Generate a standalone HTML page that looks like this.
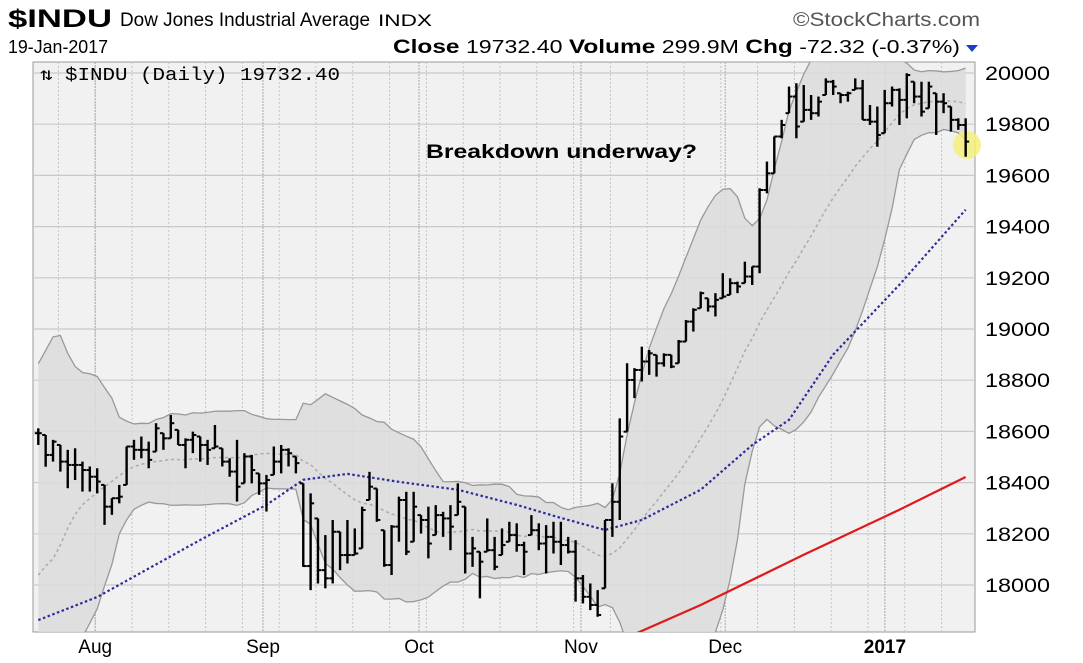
<!DOCTYPE html>
<html style="margin:0;overflow:hidden"><head><meta charset="utf-8"><style>
html,body{margin:0;padding:0;background:#fff;width:1083px;height:663px;overflow:hidden;font-family:"Liberation Sans",sans-serif}
svg{display:block}
</style></head><body>
<svg id="chart" width="1083" height="663" xmlns="http://www.w3.org/2000/svg">
<g>
<text x="8" y="27" font-size="25" font-weight="bold" textLength="104" lengthAdjust="spacingAndGlyphs" font-family="Liberation Sans,sans-serif">$INDU</text>
<text x="120" y="26" font-size="19" textLength="250" lengthAdjust="spacingAndGlyphs" font-family="Liberation Sans,sans-serif">Dow Jones Industrial Average</text>
<text x="378" y="26" font-size="17" textLength="54" lengthAdjust="spacingAndGlyphs" font-family="Liberation Sans,sans-serif">INDX</text>
<text x="793" y="26" font-size="19" textLength="187" lengthAdjust="spacingAndGlyphs" fill="#555" font-family="Liberation Sans,sans-serif">©StockCharts.com</text>
<text x="8" y="53" font-size="18" textLength="100" lengthAdjust="spacingAndGlyphs" font-family="Liberation Sans,sans-serif">19-Jan-2017</text>
<text x="393" y="53" font-size="18" textLength="567" lengthAdjust="spacingAndGlyphs" font-family="Liberation Sans,sans-serif"><tspan font-weight="bold" font-size="19">Close</tspan> 19732.40  <tspan font-weight="bold" font-size="19">Volume</tspan> 299.9M  <tspan font-weight="bold" font-size="19">Chg</tspan> -72.32 (-0.37%)</text>
<path d="M966 45 L978 45 L972 52 Z" fill="#1a3fd0"/>
</g>
<rect x="33" y="62" width="942" height="570" fill="#f1f1f1" stroke="#999"/>
<g id="grid"></g>
<g id="bands"></g>
<g id="mas"></g>
<circle cx="967" cy="145" r="14" fill="#f4f07a" opacity="0.85"/>
<g id="bars"></g>
<g id="axis"></g>
<text x="40" y="80" font-size="18" textLength="300" lengthAdjust="spacingAndGlyphs" font-family="Liberation Mono,monospace">⇅ $INDU (Daily) 19732.40</text>
<text x="426" y="158" font-size="19" font-weight="bold" textLength="271" lengthAdjust="spacingAndGlyphs" font-family="Liberation Sans,sans-serif">Breakdown underway?</text>
</svg>
<script>
const highs=[18612,18586,18567,18547,18528,18534,18482,18463,18456,18391,18339,18391,18541,18567,18580,18560,18632,18593,18664,18606,18573,18599,18580,18567,18625,18534,18495,18567,18515,18508,18436,18430,18541,18547,18534,18502,
18397,18358,18260,18195,18254,18208,18254,18221,18306,18442,18377,18214,18234,18345,18364,18364,18273,18306,18312,18286,18312,18397,18306,18188,18130,18260,18188,18221,18247,18241,18169,18273,18241,18234,18247,18247,18188,18175,18039,18006,17980,18254,18397,
18651,18866,18847,18931,18918,18899,18905,18899,18957,19035,19081,19146,19120,19140,19218,19198,19185,19263,19244,19550,19654,19752,19817,19947,19960,19953,19914,19908,19979,19973,19921,19927,19979,19973,19875,19869,19934,19947,19940,19999,19966,19966,19966,19921,19921,19869,19823,19823];
const lows=[18547,18462,18482,18443,18378,18410,18365,18365,18358,18235,18274,18319,18391,18489,18495,18456,18521,18528,18573,18547,18456,18515,18482,18469,18534,18463,18423,18326,18397,18397,18352,18287,18430,18436,18463,18436,
18071,17980,18006,17987,18006,18058,18084,18117,18143,18332,18247,18071,18039,18169,18117,18169,18201,18104,18195,18188,18136,18273,18045,18071,17948,18130,18058,18117,18169,18130,18039,18195,18136,18045,18123,18078,18123,17935,17928,17902,17876,17987,18188,
18254,18599,18730,18795,18821,18814,18853,18847,18866,18951,18990,19081,19068,19049,19120,19133,19140,19179,19172,19218,19530,19608,19745,19843,19745,19810,19817,19830,19914,19914,19882,19888,19934,19817,19797,19712,19765,19869,19797,19823,19882,19830,19862,19758,19843,19771,19778,19673];
const closes=[18593,18508,18560,18482,18469,18469,18449,18423,18404,18306,18339,18345,18541,18528,18528,18489,18612,18573,18632,18547,18567,18586,18547,18528,18541,18482,18443,18384,18502,18449,18397,18410,18482,18528,18515,18476,
18074,18319,18058,18026,18208,18117,18117,18123,18293,18384,18254,18078,18228,18332,18130,18306,18254,18162,18273,18260,18228,18325,18123,18143,18091,18136,18071,18156,18195,18156,18130,18214,18162,18188,18169,18156,18130,18026,17954,17922,17883,18254,18325,
18580,18801,18840,18873,18905,18866,18899,18853,18951,19029,19075,19140,19088,19114,19127,19179,19166,19205,19244,19543,19608,19752,19797,19908,19791,19856,19843,19888,19966,19947,19914,19921,19940,19817,19810,19758,19882,19934,19895,19992,19908,19849,19947,19888,19882,19817,19797,19732];
const priorCloses=[17780,18011,17400,17140,17409,17694,17930,17949,17840,17918,17895,18146,18226,18347,18372,18506,18516,18533,18559];
const ma50Idx=[0,8,22,31,36,42,49,57,65,71,77,82,90,97,102,108,117,126];
const ma50Val=[17863,17953,18176,18313,18411,18434,18403,18372,18313,18262,18215,18254,18372,18547,18645,18900,19173,19466];
const ma200Idx=[78,90,104,117,126];
const ma200Val=[17770,17922,18118,18294,18422];
const yTicks=[18000,18200,18400,18600,18800,19000,19200,19400,19600,19800,20000];
const monthLabels=["Aug","Sep","Oct","Nov","Dec","2017"];
const monthIdx=[8,30.8,52,74,93.6,115.3];

const NS="http://www.w3.org/2000/svg";
const X0=38.3,DX=7.36,PL=33,PR=975,PT=62,PB=632;
const x=i=>X0+i*DX;
const y=p=>73+(20000-p)*0.256;
function mk(tag,attrs,parent){const e=document.createElementNS(NS,tag);for(const k in attrs)e.setAttribute(k,attrs[k]);parent.appendChild(e);return e;}
const grid=document.getElementById('grid'),bands=document.getElementById('bands'),mas=document.getElementById('mas'),bars=document.getElementById('bars'),axis=document.getElementById('axis');

yTicks.forEach(t=>{const l=mk('line',{x1:PL,x2:PR,y1:y(t),y2:y(t),stroke:'#c9c9c9','stroke-width':1.2},grid);


const tx=mk('text',{x:985,y:y(t)+7,'font-size':19,textLength:65,lengthAdjust:'spacingAndGlyphs','font-family':'Liberation Sans,sans-serif'},axis);tx.textContent=t;

});
for(let i=3;i<127;i+=5){const l=mk('line',{x1:x(i)-2,x2:x(i)-2,y1:PT,y2:PB,stroke:'#c4c4c4','stroke-dasharray':'2,2'},grid);

}
monthIdx.forEach((m,k)=>{const xx=x(m)-2;const l=mk('line',{x1:xx,x2:xx,y1:PT,y2:PB,stroke:'#aaa','stroke-dasharray':'2,1'},grid);


const tx=mk('text',{x:xx,y:653,'font-size':19,'text-anchor':'middle','font-weight':k==5?'bold':'normal','font-family':'Liberation Sans,sans-serif'},axis);tx.textContent=monthLabels[k];

});

const all=priorCloses.concat(closes),off=priorCloses.length;
const up=[],lo=[],mid=[];
for(let i=0;i<closes.length;i++){const w=all.slice(i+off-19,i+off+1);const m=w.reduce((a,b)=>a+b,0)/w.length;const sd=Math.sqrt(w.reduce((a,b)=>a+(b-m)*(b-m),0)/w.length);mid.push(m);up.push(m+2*sd);lo.push(m-2*sd);}
const cp=mk('clipPath',{id:'pc'},document.getElementById('chart'));mk('rect',{x:PL,y:PT,width:PR-PL,height:PB-PT},cp);
bands.setAttribute('clip-path','url(#pc)');mas.setAttribute('clip-path','url(#pc)');
let d='';up.forEach((v,i)=>d+=(i?'L':'M')+x(i)+' '+y(v));for(let i=lo.length-1;i>=0;i--)d+='L'+x(i)+' '+y(lo[i]);d+='Z';
const bf=mk('path',{d:d,fill:'#dcdcdc',opacity:0.85},bands);


[[up,'upper-band'],[lo,'lower-band']].forEach(([arr,n])=>{let p='';arr.forEach((v,i)=>p+=(i?'L':'M')+x(i)+' '+y(v));const e=mk('path',{d:p,fill:'none',stroke:'#999','stroke-width':1.3},bands);

});
let pm='';mid.forEach((v,i)=>pm+=(i?'L':'M')+x(i)+' '+y(v));
const me=mk('path',{d:pm,fill:'none',stroke:'#aaa','stroke-width':1.5,'stroke-dasharray':'3,3'},bands);



let p50='';ma50Idx.forEach((ix,k)=>p50+=(k?'L':'M')+x(ix)+' '+y(ma50Val[k]));
const m50=mk('path',{d:p50,fill:'none',stroke:'#2b2b9a','stroke-width':2.2,'stroke-dasharray':'2.5,2.5'},mas);


let p200='';ma200Idx.forEach((ix,k)=>p200+=(k?'L':'M')+x(ix)+' '+y(ma200Val[k]));
const m200=mk('path',{d:p200,fill:'none',stroke:'#e0191b','stroke-width':2.2},mas);



closes.forEach((c,i)=>{const xx=x(i);const o=i?closes[i-1]:c;
const g=mk('g',{},bars);


mk('line',{x1:xx,x2:xx,y1:y(highs[i]),y2:y(lows[i]),stroke:'#000','stroke-width':2.4},g);
mk('line',{x1:xx,x2:xx+3.5,y1:y(c),y2:y(c),stroke:'#000','stroke-width':2},g);
const oy=y(Math.min(Math.max(o,lows[i]),highs[i]));
mk('line',{x1:xx-3.5,x2:xx,y1:oy,y2:oy,stroke:'#000','stroke-width':2},g);});
</script>
</body></html>
